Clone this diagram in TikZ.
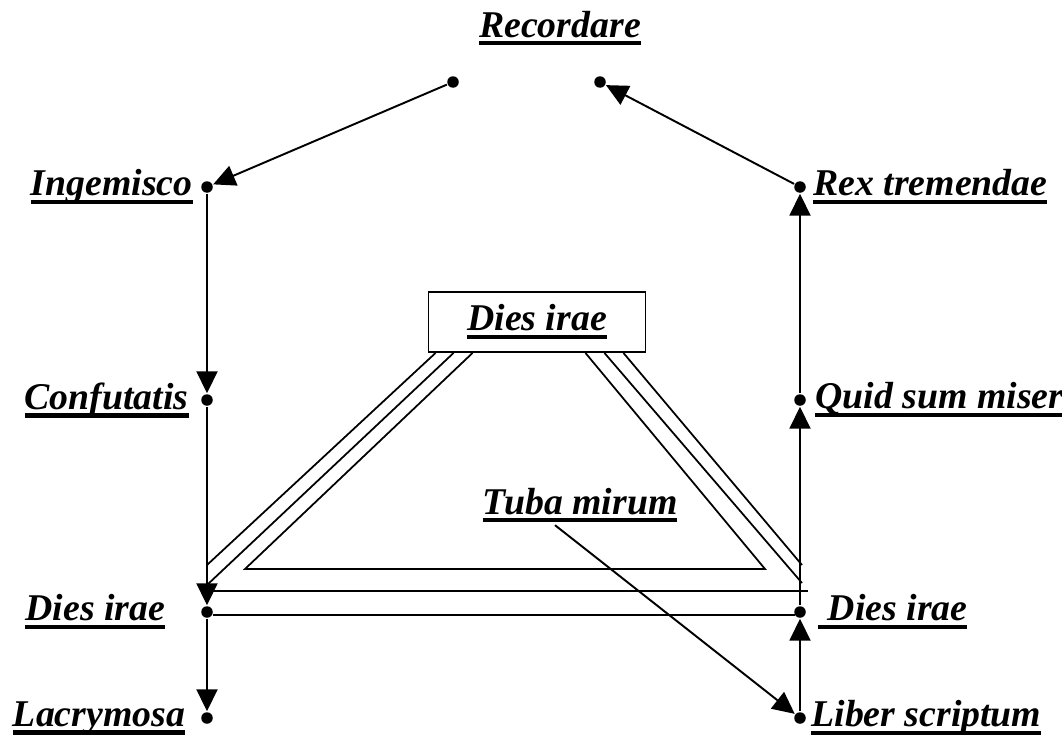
\documentclass[tikz,border=0pt]{standalone}
\usepackage{fontspec}
\setmainfont{Liberation Serif}
\usepackage{tikz}
\usetikzlibrary{arrows.meta, positioning}
\newsavebox{\ulinebox}
\newcommand{\thickul}[1]{\sbox{\ulinebox}{#1}%
    \rlap{\vrule height -2.4pt depth 4.8pt width \wd\ulinebox}\usebox{\ulinebox}}

\begin{document}
\begin{tikzpicture}[
    line width=1.1pt,
    movtext/.style={font=\fontsize{21.5}{25}\selectfont\bfseries\itshape, inner sep=1pt},
    dot/.style={circle, fill=black, inner sep=0pt, minimum size=0.23cm},
    flow/.style={-{Triangle[length=0.44cm, width=0.42cm]}},
    mainbox/.style={draw, minimum width=4.34cm, minimum height=1.2cm,
        font=\fontsize{21.5}{25}\selectfont\bfseries\itshape},
    trail/.style={line width=1pt},
]
\useasboundingbox (0,0) rectangle (21.24,-14.72);

%% ========== TOP ==========
\node[movtext, anchor=base] (rec) at (11.2,-0.74) {\thickul{Recordare}};
\node[dot] (recl) at (9.06,-1.64) {};
\node[dot] (recr) at (12.0,-1.64) {};

%% ========== LEFT COLUMN ==========
\node[dot] (ingd) at (4.14,-3.74) {};
\node[dot] (cond) at (4.14,-8.0) {};
\node[dot] (dild) at (4.14,-12.24) {};
\node[dot] (lacd) at (4.14,-14.36) {};
\node[movtext, left=0.1cm of ingd] (ing) {\thickul{Ingemisco}};
\node[movtext, left=0.18cm of cond] (con) {\thickul{Confutatis}};
\node[movtext, left=0.65cm of dild] (dil) {\thickul{Dies irae}};
\node[movtext, left=0.25cm of lacd] (lac) {\thickul{Lacrymosa}};

%% ========== RIGHT COLUMN ==========
\node[dot] (rexd) at (16.0,-3.74) {};
\node[dot] (quid) at (16.0,-8.0) {};
\node[dot] (dird) at (16.0,-12.24) {};
\node[dot] (libd) at (16.0,-14.36) {};
\node[movtext, right=0.08cm of rexd] (rex) {\thickul{Rex tremendae}};
\node[movtext, right=0.12cm of quid] (qui) {\thickul{Quid sum miser}};
\node[movtext, right=0.18cm of dird] (dir) {\thickul{\ Dies irae}};
\node[movtext, right=0.04cm of libd] (lib) {\thickul{Liber scriptum}};

%% ========== CENTRE ==========
\node[mainbox] (box) at (10.74,-6.44) {\thickul{Dies irae}};
\node[movtext, anchor=base] (tuba) at (11.6,-10.28) {\thickul{Tuba mirum}};

%% ========== TRIANGLE ==========
\draw[trail] ([xshift=0.16cm]box.south west) -- (4.14,-11.3);
\draw[trail] ([xshift=0.52cm]box.south west) -- (4.14,-11.7);
\draw[trail] ([xshift=0.9cm]box.south west) -- (4.9,-11.38) -- (15.3,-11.38)
    -- ([xshift=-1.22cm]box.south east);
\draw[trail] ([xshift=-0.84cm]box.south east) -- (16.04,-11.66);
\draw[trail] ([xshift=-0.46cm]box.south east) -- (16.04,-11.3);
\draw[trail] (4.26,-11.82) -- (16.16,-11.82);
\draw[trail] (4.26,-12.3) -- (15.9,-12.3);

%% ========== ARROWS ==========
\draw[flow] (recl) -- (ingd);
\draw[flow] (ingd) -- (cond);
\draw[flow] (cond) -- (dild);
\draw[flow] (dild) -- (lacd);
\draw[flow] (libd) -- (dird);
\draw[flow] (dird) -- (quid);
\draw[flow] (quid) -- (rexd);
\draw[flow] (rexd) -- (recr);
\draw[flow] ([xshift=-0.5cm]tuba.south) -- (libd);
\end{tikzpicture}
\end{document}
